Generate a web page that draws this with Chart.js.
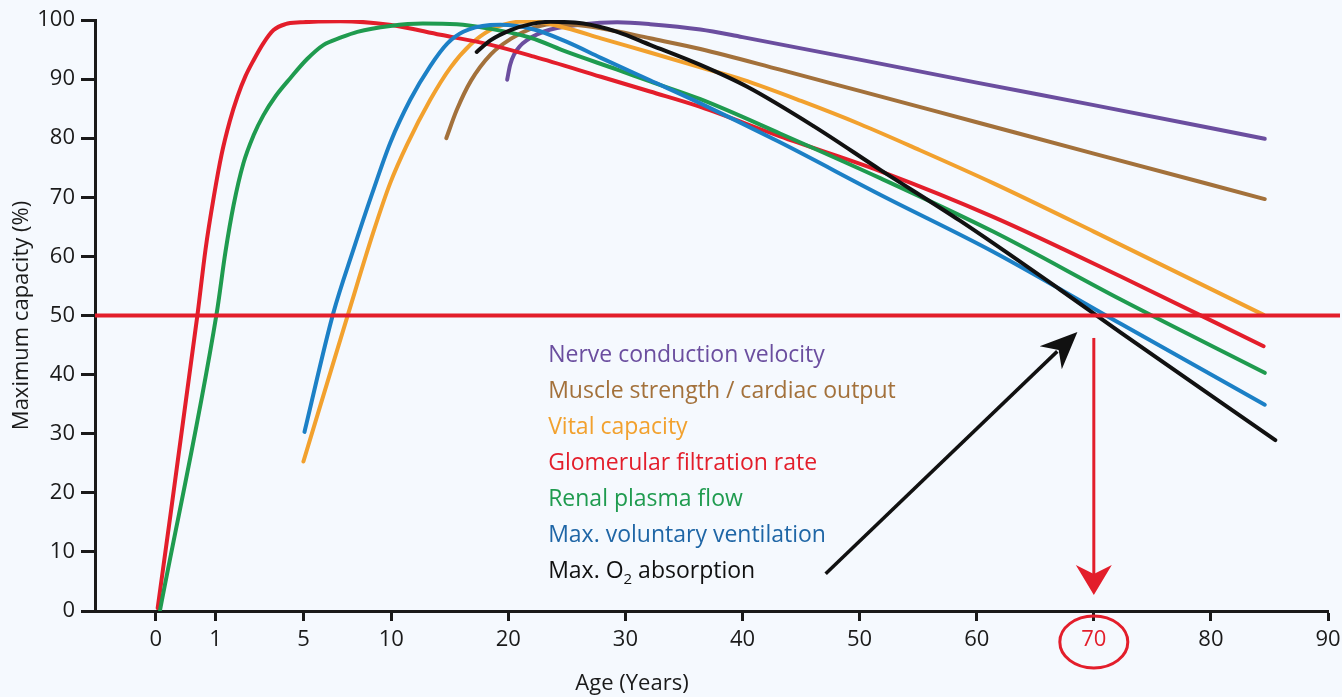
<!DOCTYPE html>
<html>
<head>
<meta charset="utf-8">
<title>Maximum capacity by age</title>
<script src="https://cdn.jsdelivr.net/npm/chart.js@4.4.1/dist/chart.umd.min.js"></script>
<style>
  html, body { margin: 0; padding: 0; background: #F5F9FE; }
  #wrap { width: 1342px; height: 697px; }
</style>
</head>
<body>
<div id="wrap"><canvas id="capacity-chart" width="1342" height="697"></canvas></div>
<script>
/* ==========================================================================
   MAXIMUM CAPACITY BY AGE
   --------------------------------------------------------------------------
   Seven physiological curves on a stretched age axis (0-1-5-10 are spread
   out, 10-90 is linear).
   ========================================================================== */

// ==========================================================================
// 1. DATA
// ==========================================================================
const AGE_TICKS = [0, 1, 5, 10, 20, 30, 40, 50, 60, 70, 80, 90];

const nerveAge = [19.9, 20.15, 20.5, 21.0, 21.6, 22.5, 23.6, 26.4, 29.3, 32.1, 36.4, 40, 50, 60, 70, 84.6];
const nerveVal = [89.9, 92.4, 94.2, 95.6, 96.6, 97.6, 98.4, 99.3, 99.6, 99.3, 98.4, 97.1, 93.3, 89.4, 85.6, 79.9];

const muscleAge = [14.7, 15.6, 16.8, 18.5, 20.2, 21.9, 23.6, 25.5, 27.9, 32.1, 36.4, 43.2, 50, 60, 70, 84.6];
const muscleVal = [80.0, 84.8, 89.7, 94.2, 96.8, 98.5, 99.3, 99.2, 98.6, 96.9, 95.1, 91.6, 88.0, 82.7, 77.4, 69.7];

const vitalAge = [5.0, 7.56, 8.98, 9.94, 11.37, 13.33, 15.04, 16.75, 18.45, 20.16, 21.9, 25.0, 27.9, 32.1, 36.4, 40, 45, 50, 55, 61.4, 70, 84.5];
const vitalVal = [25.3, 50.4, 64.1, 72.4, 79.0, 86.5, 91.9, 95.8, 98.3, 99.5, 99.8, 98.6, 96.9, 94.5, 92.0, 89.9, 86.3, 82.4, 78.1, 72.4, 64.2, 50.1];

const gfrAge = [0.03, 0.70, 0.83, 0.97, 1.27, 1.64, 2.0, 2.36, 2.73, 3.18, 3.64, 4.18, 4.86, 7.1, 9.9, 14.2, 18.5, 22.2, 27.9, 32.1, 36.4, 43.2, 51.8, 61.4, 72.3, 84.5];
const gfrVal = [0.5, 50.4, 61.1, 70.1, 77.2, 82.8, 87.1, 90.5, 93.2, 96.1, 98.3, 99.3, 99.6, 99.8, 99.2, 97.5, 95.8, 93.8, 90.4, 87.9, 85.3, 80.3, 74.4, 66.7, 56.6, 44.8];

const renalAge = [0.07, 1.05, 1.45, 1.82, 2.27, 2.73, 3.18, 3.73, 4.41, 5.21, 6.15, 7.1, 8.07, 9.94, 12.7, 15.6, 18.5, 21.9, 25.0, 29.3, 32.1, 36.4, 43.2, 51.8, 61.4, 72.3, 84.6];
const renalVal = [0.2, 50.4, 60.8, 68.7, 75.8, 80.5, 83.9, 87.1, 90.2, 93.4, 95.8, 97.0, 98.0, 99.0, 99.4, 99.3, 98.5, 97.0, 94.6, 91.6, 89.6, 86.6, 80.8, 73.2, 64.2, 52.7, 40.3];

const ventAge = [5.06, 6.7, 7.84, 8.92, 9.94, 11.62, 13.33, 14.78, 16.15, 18.45, 19.3, 22.2, 25.0, 27.9, 32.1, 36.4, 43.2, 51.8, 61.4, 72.3, 84.6];
const ventVal = [30.3, 50.4, 61.1, 70.7, 79.2, 86.5, 92.2, 96.0, 98.0, 99.15, 99.2, 98.4, 96.3, 93.6, 89.8, 85.9, 79.3, 70.4, 60.8, 48.6, 34.9];

const oxyAge = [17.3, 18.5, 20.2, 21.9, 23.6, 26.4, 29.3, 32.1, 36.4, 40.4, 46.1, 51.8, 58.6, 67.1, 72.3, 85.5];
const oxyVal = [94.6, 96.6, 98.3, 99.3, 99.7, 99.4, 98.0, 95.8, 92.4, 88.7, 82.0, 74.6, 66.0, 54.4, 47.1, 28.9];

const THRESHOLD = 50;
const HIGHLIGHT_AGE = 70;

// ==========================================================================
// 2. AXIS WARP (age -> position, in "decades" from age 0)
// ==========================================================================
const WARP_AGE = [0, 1, 5, 10, 90];
const WARP_POS = [0, 0.51, 1.26, 2.01, 10.01];

function agePos(age) {
  for (let i = 1; i < WARP_AGE.length; i++) {
    if (age <= WARP_AGE[i]) {
      const t = (age - WARP_AGE[i - 1]) / (WARP_AGE[i] - WARP_AGE[i - 1]);
      return WARP_POS[i - 1] + t * (WARP_POS[i] - WARP_POS[i - 1]);
    }
  }
  return WARP_POS[WARP_POS.length - 1];
}

const toPoints = (ages, vals) => ages.map((a, i) => ({ x: agePos(a), y: vals[i] }));

// ==========================================================================
// 3. SERIES / STYLE
// ==========================================================================
const FONT = '"Open Sans", "Noto Sans", sans-serif';
const INK = '#1a1a1a';
const RED = '#E31E2B';

const SERIES = [
  { label: 'Max. O2 absorption',               ages: oxyAge,    vals: oxyVal,    color: '#111111', text: '#111111' },
  { label: 'Max. voluntary ventilation',       ages: ventAge,   vals: ventVal,   color: '#1C80C6', text: '#1F66A6' },
  { label: 'Renal plasma flow',                ages: renalAge,  vals: renalVal,  color: '#1F9B4F', text: '#1F9B4F' },
  { label: 'Glomerular filtration rate',       ages: gfrAge,    vals: gfrVal,    color: '#E31E2B', text: '#E31E2B' },
  { label: 'Vital capacity',                   ages: vitalAge,  vals: vitalVal,  color: '#F2A12E', text: '#F2A12E' },
  { label: 'Muscle strength / cardiac output', ages: muscleAge, vals: muscleVal, color: '#A3713B', text: '#A3713B' },
  { label: 'Nerve conduction velocity',        ages: nerveAge,  vals: nerveVal,  color: '#6B4E9F', text: '#6B4E9F' }
];

// ==========================================================================
// 4. OVERLAY PLUGIN (threshold, arrows, legend text, axis title)
// ==========================================================================
function arrowHead(ctx, tipX, tipY, dx, dy, len, half, notch) {
  const n = Math.hypot(dx, dy);
  const ux = dx / n, uy = dy / n;
  const px = -uy, py = ux;
  const bx = tipX - ux * len, by = tipY - uy * len;
  ctx.beginPath();
  ctx.moveTo(tipX, tipY);
  ctx.lineTo(bx + px * half, by + py * half);
  ctx.lineTo(tipX - ux * notch, tipY - uy * notch);
  ctx.lineTo(bx - px * half, by - py * half);
  ctx.closePath();
  ctx.fill();
}

const overlayPlugin = {
  id: 'overlay',
  afterDatasetsDraw(chart) {
    const { ctx, chartArea, scales: { x, y } } = chart;
    ctx.save();

    // threshold line at 50 %
    const y50 = y.getPixelForValue(THRESHOLD);
    ctx.strokeStyle = RED;
    ctx.lineWidth = 4;
    ctx.beginPath();
    ctx.moveTo(chartArea.left, y50);
    ctx.lineTo(chart.width - 2, y50);
    ctx.stroke();

    // red arrow down to age 70
    const x70 = x.getPixelForValue(agePos(HIGHLIGHT_AGE));
    const aTop = y.getPixelForValue(46.2);
    const aTip = y.getPixelForValue(2.7);
    ctx.lineWidth = 3;
    ctx.beginPath();
    ctx.moveTo(x70, aTop);
    ctx.lineTo(x70, aTip - 20);
    ctx.stroke();
    ctx.fillStyle = RED;
    arrowHead(ctx, x70, aTip, 0, 1, 30, 18, 21);

    // black arrow from legend to crossing
    const tx = x.getPixelForValue(agePos(47.1)), ty = y.getPixelForValue(6.3);
    const hx = x.getPixelForValue(agePos(68.6)), hy = y.getPixelForValue(47.2);
    ctx.strokeStyle = '#111111';
    ctx.fillStyle = '#111111';
    ctx.lineWidth = 3.5;
    ctx.beginPath();
    ctx.moveTo(tx, ty);
    ctx.lineTo(hx - (hx - tx) * 0.08, hy - (hy - ty) * 0.08);
    ctx.stroke();
    arrowHead(ctx, hx, hy, hx - tx, hy - ty, 37, 16, 26);

    // ellipse round the "70" tick label
    ctx.strokeStyle = RED;
    ctx.lineWidth = 3;
    ctx.beginPath();
    ctx.ellipse(x70, 642, 34, 26, 0, 0, Math.PI * 2);
    ctx.stroke();

    // legend text
    const lx = x.getPixelForValue(agePos(23.4));
    const legendOrder = SERIES.slice().reverse();
    ctx.font = '23px ' + FONT;
    ctx.textBaseline = 'middle';
    ctx.textAlign = 'left';
    legendOrder.forEach((s, i) => {
      const ly = y.getPixelForValue(43.2) + i * 36;
      ctx.fillStyle = s.text;
      if (s.label.indexOf('O2') >= 0) {
        const head = 'Max. O';
        ctx.fillText(head, lx, ly);
        let w = ctx.measureText(head).width;
        ctx.font = '15px ' + FONT;
        ctx.fillText('2', lx + w, ly + 8);
        w += ctx.measureText('2').width;
        ctx.font = '23px ' + FONT;
        ctx.fillText(' absorption', lx + w, ly);
      } else {
        ctx.fillText(s.label, lx, ly);
      }
    });

    // x axis title
    ctx.fillStyle = INK;
    ctx.font = '22px ' + FONT;
    ctx.textAlign = 'center';
    ctx.fillText('Age (Years)', 632, 684);

    ctx.restore();
  }
};

// ==========================================================================
// 5. CHART
// ==========================================================================
const ctx = document.getElementById('capacity-chart').getContext('2d');

new Chart(ctx, {
  type: 'line',
  data: {
    datasets: SERIES.map(s => ({
      label: s.label,
      data: toPoints(s.ages, s.vals),
      borderColor: s.color,
      borderWidth: 4,
      borderCapStyle: 'round',
      borderJoinStyle: 'round',
      pointRadius: 0,
      fill: false,
      cubicInterpolationMode: 'monotone'
    }))
  },
  options: {
    responsive: false,
    animation: false,
    devicePixelRatio: 1,
    layout: { padding: { left: 0, top: 20, right: 14, bottom: 0 } },
    plugins: { legend: { display: false }, tooltip: { enabled: false } },
    scales: {
      x: {
        type: 'linear',
        min: -0.52,
        max: agePos(90),
        afterBuildTicks: scale => { scale.ticks = AGE_TICKS.map(a => ({ value: agePos(a) })); },
        afterFit: scale => {
          scale.height = 86;
          scale.paddingLeft = 0;
          scale.paddingRight = 0;
        },
        ticks: {
          autoSkip: false,
          maxRotation: 0,
          padding: 6,
          font: { family: FONT, size: 22 },
          color: c => (AGE_TICKS[c.index] === HIGHLIGHT_AGE ? RED : INK),
          callback: (v, i) => AGE_TICKS[i]
        },
        grid: { drawOnChartArea: false, tickLength: 10, tickWidth: 3, tickColor: INK },
        border: { color: INK, width: 3 }
      },
      y: {
        min: 0,
        max: 100,
        afterFit: scale => { scale.width = 95; },
        ticks: {
          stepSize: 10,
          padding: 6,
          font: { family: FONT, size: 22 },
          color: INK
        },
        grid: { drawOnChartArea: false, tickLength: 14, tickWidth: 3, tickColor: INK },
        border: { color: INK, width: 3 },
        title: {
          display: true,
          text: 'Maximum capacity (%)',
          color: INK,
          font: { family: FONT, size: 22 },
          padding: { top: 9, bottom: 0 }
        }
      }
    }
  },
  plugins: [overlayPlugin]
});
</script>
</body>
</html>
